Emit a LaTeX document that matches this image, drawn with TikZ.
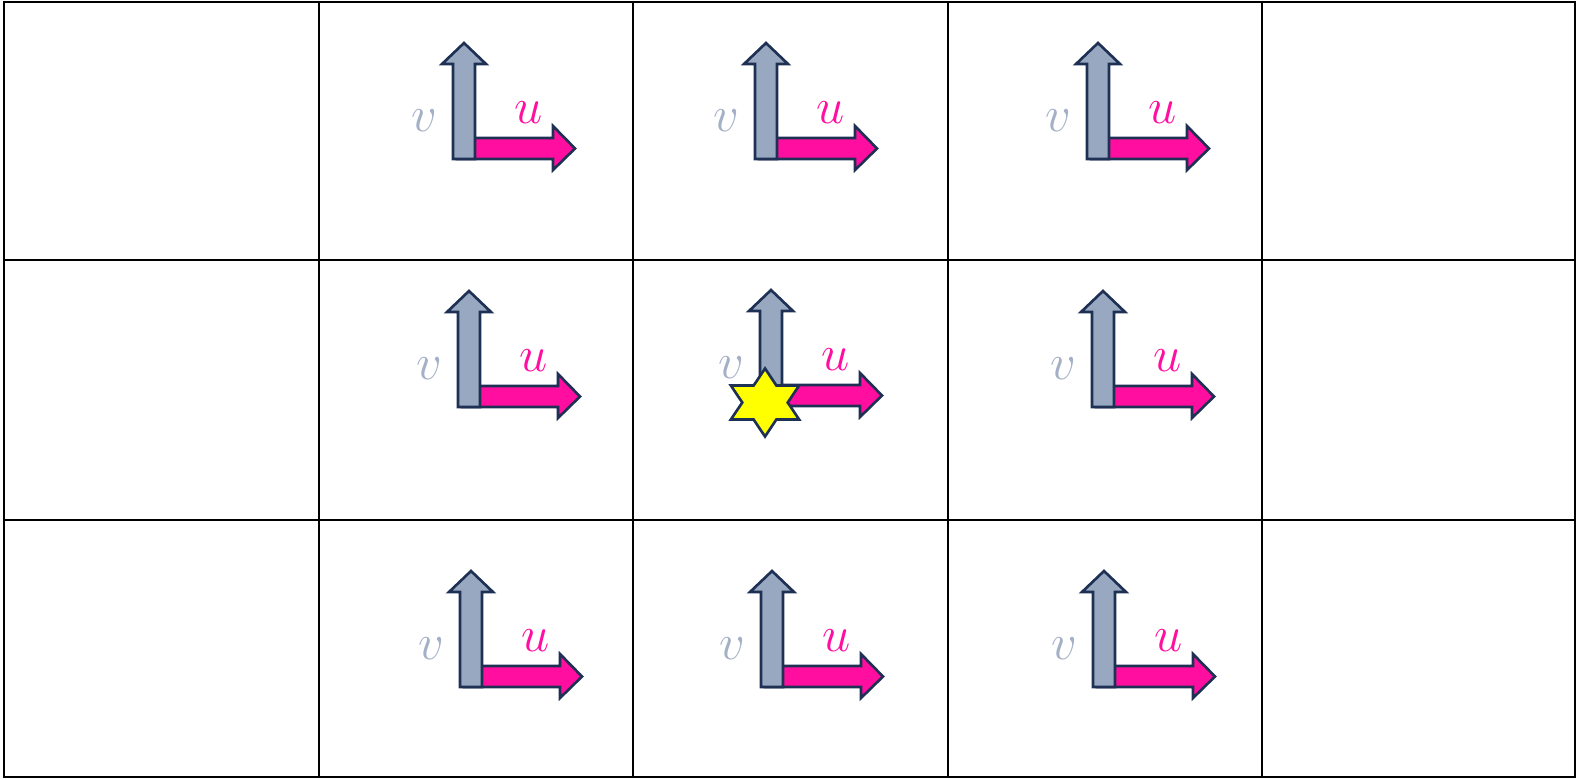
\documentclass[tikz,border=0pt]{standalone}
\usepackage{tikz}
\usetikzlibrary{calc}
\definecolor{arrowline}{RGB}{30,48,84}
\definecolor{vgrey}{RGB}{152,168,192}
\definecolor{vtext}{RGB}{163,176,198}
\definecolor{upink}{RGB}{255,14,160}
\definecolor{staryellow}{RGB}{255,255,0}
\tikzset{
  gridline/.style={line width=0.8pt, black},
  uarrow/.style={draw=arrowline, fill=upink, line width=0.75pt, line join=miter},
  varrow/.style={draw=arrowline, fill=vgrey, line width=0.75pt, line join=miter},
  ulabel/.style={text=upink, font=\fontsize{14.5}{17}\selectfont, inner sep=0pt},
  vlabel/.style={text=vtext, font=\fontsize{14.5}{17}\selectfont, inner sep=0pt},
  markstar/.style={draw=arrowline, fill=staryellow, line width=0.75pt, line join=miter},
  uvaxes/.pic={
    \draw[uarrow] (0.04,0) -- (1.00,0) -- (1.00,-0.11) -- (1.22,0.105) -- (1.00,0.33) -- (1.00,0.21) -- (0.04,0.21) -- cycle;
    \draw[varrow] (0,0) -- (0.22,0) -- (0.22,0.95) -- (0.33,0.95) -- (0.11,1.16) -- (-0.11,0.95) -- (0,0.95) -- cycle;
    \node[vlabel] (-v) at (-0.29,0.38) {$v$};
    \node[ulabel] (-u) at (0.76,0.46) {$u$};
  }
}
\begin{document}
\begin{tikzpicture}
\useasboundingbox (0,0) rectangle (15.76,-7.79);
% grid of cells
\draw[gridline] (0.04,-0.02) rectangle (15.75,-7.77);
\foreach \gx in {3.19,6.33,9.48,12.62}
  \draw[gridline] (\gx,-0.02) -- (\gx,-7.77);
\foreach \gy in {-2.60,-5.20}
  \draw[gridline] (0.04,\gy) -- (15.75,\gy);
% u/v frames
\pic (f11) at (4.53,-1.59) {uvaxes};
\pic (f12) at (7.55,-1.59) {uvaxes};
\pic (f13) at (10.87,-1.59) {uvaxes};
\pic (f21) at (4.58,-4.07) {uvaxes};
\pic (f22) at (7.60,-4.06) {uvaxes};
\pic (f23) at (10.92,-4.07) {uvaxes};
\pic (f31) at (4.60,-6.87) {uvaxes};
\pic (f32) at (7.61,-6.87) {uvaxes};
\pic (f33) at (10.93,-6.87) {uvaxes};
% star on the centre cell
\draw[markstar, shift={(7.65,-4.025)}, xscale=1.16] (90:0.34)
  \foreach \a in {1,...,11}{ -- ({90+30*\a}:{ifthenelse(mod(\a,2)==0,0.34,0.196)}) } -- cycle;
\end{tikzpicture}
\end{document}
